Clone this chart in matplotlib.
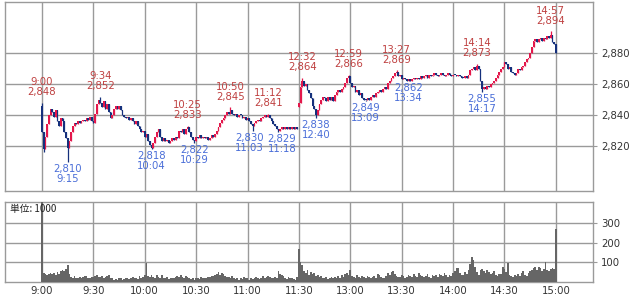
import matplotlib
matplotlib.use('Agg')
import matplotlib.pyplot as plt
import numpy as np

# ---- data (1-minute candles; afternoon session follows the morning directly) ----
closes_am = [
    2829, 2818, 2826, 2834, 2840, 2844, 2842, 2839, 2843, 2836,
    2833, 2838, 2836, 2829, 2825, 2819, 2823, 2829, 2833, 2835,
    2834, 2836, 2835, 2836, 2837, 2836, 2838, 2837, 2839, 2836,
    2835, 2841, 2847, 2850, 2848, 2845, 2849, 2844, 2847, 2842,
    2838, 2840, 2844, 2846, 2844, 2846, 2843, 2840, 2839, 2838,
    2839, 2837, 2838, 2836, 2834, 2836, 2833, 2831, 2829, 2830,
    2826, 2828, 2823, 2821, 2819, 2822, 2826, 2829, 2831, 2826,
    2823, 2825, 2823, 2824, 2822, 2823, 2825, 2824, 2826, 2825,
    2830, 2829, 2831, 2828, 2831, 2832, 2829, 2826, 2824, 2823,
    2826, 2825, 2827, 2825, 2826, 2825, 2826, 2824, 2825, 2827,
    2826, 2828, 2830, 2832, 2835, 2837, 2838, 2840, 2842, 2841,
    2843, 2841, 2840, 2841, 2839, 2840, 2840, 2838, 2839, 2837,
    2838, 2836, 2834, 2833, 2835, 2836, 2837, 2836, 2838, 2839,
    2840, 2839, 2840, 2838, 2836, 2834, 2833, 2831, 2830, 2831,
    2832, 2831, 2832, 2831, 2832, 2831, 2832, 2831, 2832, 2831,
]
closes_pm = [
    2848, 2858, 2862, 2859, 2860, 2856, 2854, 2851, 2846, 2844,
    2840, 2843, 2847, 2850, 2852, 2851, 2849, 2852, 2850, 2852,
    2849, 2853, 2855, 2856, 2855, 2857, 2858, 2861, 2864, 2865,
    2861, 2858, 2859, 2855, 2856, 2853, 2854, 2851, 2850, 2850,
    2851, 2850, 2852, 2853, 2852, 2854, 2855, 2856, 2855, 2857,
    2858, 2857, 2861, 2862, 2864, 2865, 2867, 2868, 2865, 2866,
    2863, 2864, 2863, 2862, 2863, 2862, 2863, 2864, 2863, 2864,
    2863, 2865, 2864, 2865, 2866, 2864, 2866, 2865, 2866, 2867,
    2866, 2865, 2866, 2867, 2866, 2865, 2866, 2867, 2866, 2865,
    2866, 2866, 2865, 2866, 2865, 2864, 2864, 2865, 2864, 2866,
    2869, 2870, 2871, 2869, 2872, 2870, 2862, 2857, 2858, 2857,
    2859, 2858, 2860, 2861, 2862, 2864, 2866, 2868, 2870, 2871,
    2874, 2873, 2870, 2871, 2868, 2867, 2866, 2867, 2870, 2869,
    2871, 2872, 2874, 2876, 2877, 2880, 2884, 2888, 2889, 2887,
    2889, 2890, 2888, 2890, 2889, 2891, 2890, 2892, 2887, 2886,
    2880,
]
first_open = 2846
afternoon_open = 2845

# labelled extremes: minute index -> price
high_marks = {0: 2848, 34: 2852, 85: 2833, 110: 2845, 132: 2841,
              152: 2864, 179: 2866, 207: 2869, 254: 2873, 297: 2894}
low_marks = {1: 2816, 15: 2810, 64: 2818, 89: 2822, 123: 2830, 138: 2829,
             160: 2838, 189: 2849, 214: 2862, 257: 2855}
labelled_highs = [0, 34, 85, 110, 132, 152, 179, 207, 254, 297]
labelled_lows = [15, 64, 89, 123, 138, 160, 189, 214, 257]

volumes = [
    420,
    45, 40, 38, 42, 45, 40, 48, 38, 50, 42, 55, 62,
    55, 68, 88, 40,
    25, 20, 30, 22, 18, 25, 20, 28, 32, 30, 22, 18, 25, 28,
    30, 35, 28, 25, 32, 20, 25, 30, 35, 22, 18, 12, 15, 10, 20,
    18, 12, 15, 22, 20, 15, 18, 25, 20, 22, 15, 30, 18, 25, 35,
    97,
    30, 25, 35, 28, 22, 38, 25, 20, 35, 18, 22, 28, 15, 20,
    18, 22, 25, 30, 28, 35, 25, 20, 32, 28, 22, 15, 18, 12, 20,
    22, 15, 25, 18, 20, 22, 28, 25, 30, 32,
    38, 42, 50, 35, 45, 40, 30, 28, 25, 22, 30, 20,
    15, 18, 12, 20, 15, 25, 18, 22, 12, 18, 15, 20, 25, 18, 15,
    22, 30, 20, 25, 32, 28, 20, 18, 25, 22,
    55, 40, 35, 30, 20, 15, 25, 18, 20, 15, 12, 25,
    170, 100, 85, 55, 45, 60, 35, 50, 40, 45, 30, 38, 25, 30, 20,
    18, 25, 15, 22, 28, 20, 25, 18, 30, 22, 35, 28, 40, 45, 38,
    60, 30, 25, 20, 35, 28, 22, 30, 25, 18, 32, 28, 20, 25, 30,
    22, 40, 35, 25, 18, 20,
    30, 45, 38, 50, 55, 40, 32, 28, 25, 35, 30, 22, 28, 35, 30,
    25, 40, 32, 28, 45, 35, 30, 25, 32, 40, 28, 22, 35, 30, 38,
    25, 40, 35, 30, 45, 38, 28, 35, 30, 48,
    55, 70, 72, 45, 35, 38, 50, 40, 60, 90,
    130, 110, 75, 50, 35, 60,
    65, 55, 45, 60, 52, 40, 48, 55, 35, 30, 42, 40, 75, 68, 50,
    97,
    35, 30, 28, 35, 30, 40, 32, 45, 55, 38, 30, 48, 55,
    62, 70, 75, 60, 78, 72, 55, 65, 100, 60, 55, 68, 70, 65,
    270,
]

time_labels = ['9:00', '9:30', '10:00', '10:30', '11:00', '11:30',
               '13:00', '13:30', '14:00', '14:30', '15:00']
price_ticks = [2820, 2840, 2860, 2880]
volume_ticks = [100, 200, 300]
unit_text = '単位: 1000'

# ---- build OHLC table ----
closes = closes_am + closes_pm
n = len(closes)
assert len(volumes) == n, (len(volumes), n)
opens = [first_open] + closes[:-1]
opens[len(closes_am)] = afternoon_open
highs = [max(o, c) for o, c in zip(opens, closes)]
lows = [min(o, c) for o, c in zip(opens, closes)]
for k, v in high_marks.items():
    highs[k] = max(highs[k], v)
for k, v in low_marks.items():
    lows[k] = min(lows[k], v)


def minute_to_time(m):
    if m <= len(closes_am):
        t = 9 * 60 + m
    else:
        t = 12 * 60 + 30 + (m - len(closes_am))
    return f"{t // 60}:{t % 60:02d}"


# ---- figure ----
W, H = 636, 296
fig = plt.figure(figsize=(W / 100, H / 100), dpi=100)
ax = fig.add_axes([5 / W, 1 - 191 / H, 588 / W, 189 / H])
axv = fig.add_axes([5 / W, 1 - 282 / H, 588 / W, 80 / H])

UP = '#e3174b'
DOWN = '#15307c'
GRID = '#9a9a9a'
RED_TXT = '#bf4040'
BLUE_TXT = '#4a6ed8'
TXT = '#333333'
FS = 7.3

x = np.arange(n)
o = np.array(opens, float)
c = np.array(closes, float)
colors = [UP if cc > oo else DOWN for oo, cc in zip(o, c)]
ax.vlines(x, lows, highs, colors=colors, lw=0.9, zorder=3)
body = np.abs(c - o)
body = np.where(body < 0.5, 0.5, body)
ax.bar(x, body, bottom=np.minimum(o, c), width=1.0, color=colors, lw=0, zorder=3)

xticks = np.arange(0, 301, 30)
for a in (ax, axv):
    a.set_xlim(-21.6, 321.7)
    a.set_xticks(xticks)
    a.grid(True, color=GRID, lw=1.0)
    a.set_axisbelow(True)
    for s in a.spines.values():
        s.set_color(GRID)
        s.set_linewidth(1.0)
    a.yaxis.tick_right()
    a.tick_params(axis='y', length=3, color=GRID, labelsize=FS, labelcolor=TXT, pad=3)

ax.set_ylim(2791, 2913)
ax.set_yticks(price_ticks)
ax.set_yticklabels([f"{p:,}" for p in price_ticks])
ax.tick_params(axis='x', length=0, labelbottom=False)

# small horizontal nudges (points) so that neighbouring labels do not collide
nudge = {123: -2.5, 138: 2.5}

for m in labelled_highs:
    ax.annotate(f"{minute_to_time(m)}\n{highs[m]:,}", xy=(m, highs[m]),
                xytext=(0, 4), textcoords='offset points', ha='center', va='bottom',
                fontsize=FS, color=RED_TXT, linespacing=1.0, zorder=5)
for m in labelled_lows:
    ax.annotate(f"{lows[m]:,}\n{minute_to_time(m)}", xy=(m, lows[m]),
                xytext=(nudge.get(m, 0), -1.5), textcoords='offset points',
                ha='center', va='top',
                fontsize=FS, color=BLUE_TXT, linespacing=1.0, zorder=5)

axv.bar(x, volumes, width=1.0, color='#666666', lw=0, zorder=3)
axv.set_ylim(0, 408)
axv.set_yticks(volume_ticks)
axv.set_xticklabels(time_labels)
axv.tick_params(axis='x', length=0, labelsize=FS, labelcolor=TXT, pad=3)
axv.text(0.008, 0.97, unit_text, transform=axv.transAxes, ha='left', va='top',
         fontsize=7, color='#222222', family=['Noto Sans CJK JP', 'DejaVu Sans'], zorder=6)

fig.savefig('out.png', dpi=100)
